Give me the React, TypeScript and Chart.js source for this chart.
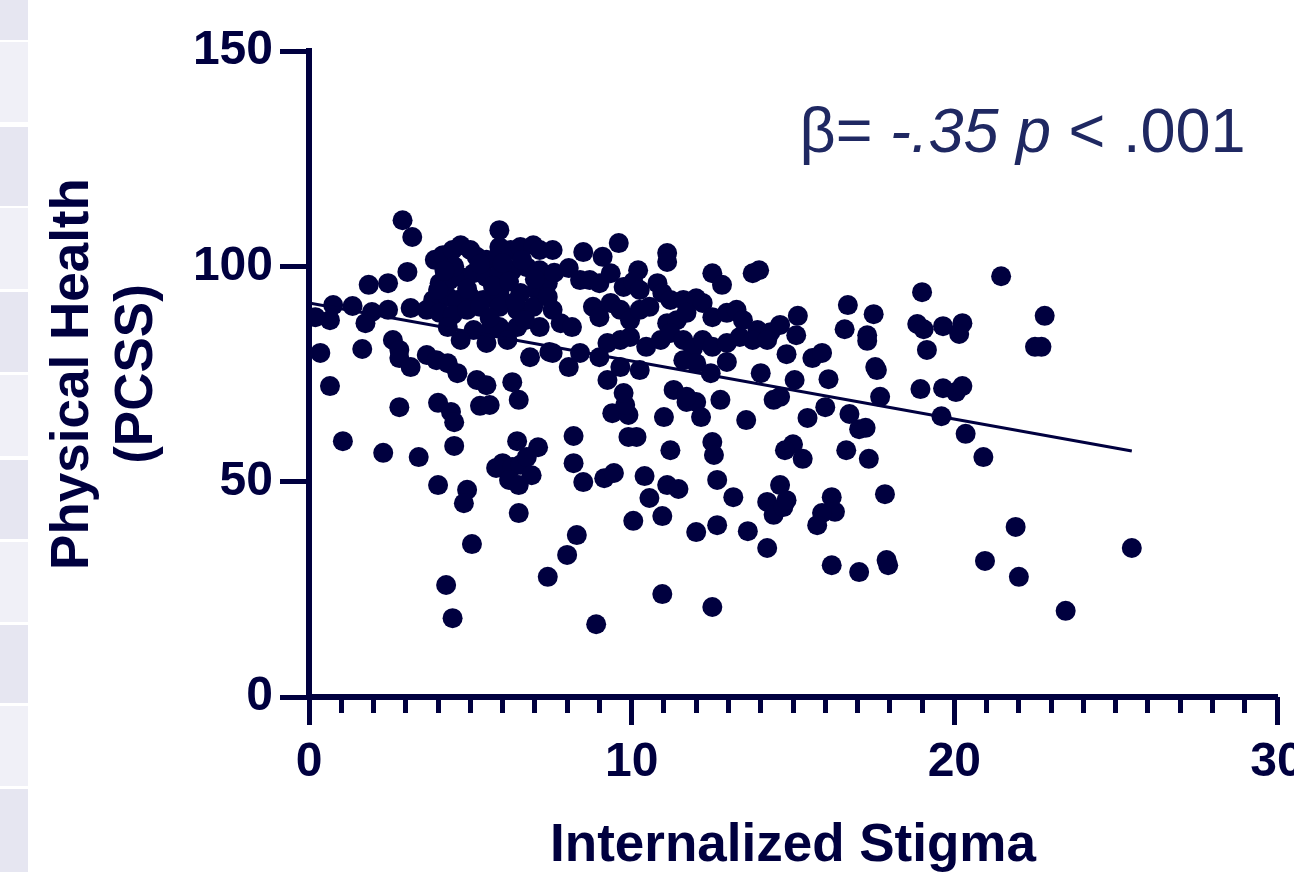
import React, { useEffect, useRef } from "react";
import { Chart, registerables } from "chart.js";

Chart.register(...registerables);

// ---- Data ----
const STIGMA: number[] = [
  2.8, 4.0, 4.4, 4.5, 5.3, 5.6, 6.5, 1.05, 2.3, 3.4, 4.5, 6.45, 7.1, 6.0, 5.8, 6.3, 6.55, 6.75, 6.9, 6.2,
  6.5, 4.0, 4.9, 4.8, 6.5, 5.05, 4.25, 4.45, 7.4, 9.4, 9.9, 9.8, 9.9, 10.15, 11.0, 11.7, 12.0, 12.75, 12.15, 13.55,
  14.4, 8.2, 8.2, 8.5, 9.15, 9.45, 10.4, 10.55, 11.1, 11.45, 10.95, 10.05, 11.2, 12.5, 12.55, 12.65, 13.15, 14.6, 14.2, 14.4,
  14.7, 14.8, 12.0, 12.65, 13.6, 14.2, 8.3, 8.0, 10.95, 12.5, 8.9, 21.45, 19.0, 22.8, 16.7, 17.5, 15.15, 14.6, 15.1, 16.6,
  17.3, 17.3, 18.85, 19.05, 19.65, 20.25, 20.15, 19.15, 22.5, 22.7, 14.8, 15.6, 15.9, 17.55, 17.6, 15.05, 16.1, 18.95, 19.65, 20.05,
  20.25, 14.6, 17.7, 16.0, 16.75, 15.45, 19.6, 17.05, 17.25, 20.35, 15.0, 14.75, 15.3, 16.65, 17.35, 20.9, 16.2, 16.3, 15.9, 15.75,
  17.85, 21.9, 25.5, 16.2, 17.05, 17.9, 17.95, 20.95, 22.0, 23.45, 2.9, 3.2, 5.9, 5.9, 1.85, 2.45, 3.05, 0.75, 1.35, 1.95,
  2.45, 1.75, 0.65, 0.2, 3.15, 0.35, 1.65, 0.65, 2.6, 2.8, 2.8, 3.15, 3.65, 3.95, 4.3, 4.6, 5.2, 5.5, 6.3, 6.85,
  7.45, 6.45, 3.9, 4.15, 4.45, 4.7, 5.0, 5.2, 5.5, 5.85, 6.25, 6.55, 6.95, 7.15, 4.05, 4.35, 4.7, 5.1, 5.5, 5.9,
  6.3, 6.75, 7.15, 3.85, 4.3, 4.6, 5.0, 5.4, 5.9, 6.55, 7.05, 7.4, 3.65, 4.05, 4.45, 4.9, 5.3, 5.9, 6.45, 6.95,
  4.3, 5.1, 5.5, 5.9, 7.15, 4.7, 5.5, 6.15, 9.6, 8.5, 7.55, 9.1, 11.1, 11.1, 8.05, 10.2, 12.5, 12.8, 13.75, 13.95,
  7.4, 7.55, 7.8, 8.15, 8.4, 8.7, 9.0, 9.35, 8.8, 9.0, 9.35, 9.75, 10.05, 10.25, 9.65, 9.95, 10.25, 10.55, 10.8, 10.95,
  11.2, 11.6, 12.0, 12.2, 11.1, 11.4, 11.7, 12.5, 12.95, 13.25, 13.45, 13.9, 14.3, 9.25, 9.65, 9.95, 10.45, 10.9, 11.2, 11.6,
  11.9, 12.2, 12.5, 12.95, 13.35, 13.75, 14.2, 7.55, 8.05, 8.4, 9.0, 9.25, 9.65, 10.25, 9.75, 11.3, 11.7, 11.6, 12.0, 12.45,
  12.95, 14.0, 4.5, 5.3, 6.0, 6.6, 4.2, 7.0, 5.7, 6.2, 4.9, 6.4, 5.6, 6.7, 4.0, 7.6,
];

const PCSS: number[] = [
  67.3, 68.3, 66.2, 63.8, 67.6, 67.8, 69.0, 59.4, 56.7, 55.7, 58.3, 59.4, 58.0, 54.3, 53.2, 53.4, 53.9, 55.7, 51.5, 50.4,
  49.2, 49.2, 48.1, 45.0, 42.7, 35.5, 26.0, 18.3, 27.9, 65.9, 65.5, 67.8, 60.4, 60.4, 65.0, 68.5, 68.5, 69.0, 65.0, 64.3,
  69.0, 60.6, 54.3, 49.9, 50.8, 52.0, 51.3, 46.2, 49.2, 48.3, 42.0, 40.9, 57.3, 59.2, 56.2, 50.4, 46.4, 49.2, 45.3, 42.3,
  44.1, 45.7, 38.3, 39.9, 38.5, 34.6, 37.6, 33.0, 23.9, 20.9, 16.9, 97.7, 94.0, 88.5, 91.0, 88.9, 88.5, 86.4, 84.0, 85.4,
  84.0, 82.7, 86.6, 85.4, 86.1, 86.8, 84.3, 80.6, 81.3, 81.3, 79.6, 78.7, 79.9, 76.6, 75.9, 73.6, 73.8, 71.5, 71.7, 70.8,
  72.2, 69.7, 69.7, 67.3, 65.7, 64.8, 65.2, 62.2, 62.5, 61.1, 58.7, 57.3, 55.3, 57.3, 55.3, 55.7, 46.4, 43.0, 42.7, 39.9,
  47.1, 39.5, 34.6, 30.6, 29.0, 31.8, 30.6, 31.6, 27.9, 20.0, 110.7, 106.8, 108.4, 104.5, 95.7, 96.1, 98.7, 91.0, 90.8, 89.4,
  89.9, 86.8, 87.5, 88.2, 90.3, 79.9, 80.8, 72.2, 82.9, 80.6, 78.7, 76.6, 79.4, 78.2, 77.5, 75.2, 73.6, 72.4, 73.1, 78.9,
  80.1, 85.9, 101.5, 102.6, 103.8, 104.9, 103.8, 102.2, 101.5, 102.2, 103.8, 104.5, 104.9, 103.8, 96.1, 96.8, 97.5, 98.4, 97.5, 98.4,
  99.1, 99.8, 99.1, 92.2, 92.9, 92.2, 92.9, 92.2, 93.8, 93.8, 94.5, 96.1, 89.9, 89.2, 88.7, 89.9, 90.6, 90.6, 89.9, 90.6,
  85.9, 85.2, 84.5, 85.9, 85.9, 82.9, 82.2, 82.9, 105.4, 103.3, 103.8, 102.2, 103.1, 101.0, 99.6, 99.1, 98.4, 95.7, 98.4, 99.1,
  92.9, 89.9, 86.8, 85.9, 96.8, 96.8, 96.1, 98.4, 90.6, 88.2, 91.5, 95.2, 96.4, 94.5, 89.9, 87.5, 89.9, 90.6, 96.1, 93.8,
  92.2, 92.2, 92.6, 91.5, 86.8, 87.5, 89.2, 88.2, 89.2, 89.9, 87.5, 85.2, 84.7, 82.2, 82.9, 83.6, 81.3, 82.9, 84.5, 82.9,
  81.0, 82.9, 81.3, 82.2, 83.6, 82.9, 82.9, 79.9, 76.6, 79.9, 78.9, 73.6, 76.6, 75.9, 70.6, 71.3, 69.7, 78.2, 77.5, 75.2,
  77.8, 75.2, 100.0, 100.5, 100.8, 101.5, 99.0, 97.0, 95.5, 96.5, 94.8, 91.8, 88.0, 87.5, 94.5, 98.5,
];

// Regression line end points (Internalized Stigma, PCSS)
const FIT_X: number[] = [0, 25.5];
const FIT_Y: number[] = [91.5, 57.1];

// Axis ticks
const X_MAJOR_STEP = 10;
const X_MINOR_STEP = 1;
const X_RANGE: number[] = [0, 30];
const Y_TICK_STEP = 50;
const Y_RANGE: number[] = [0, 150];

const X_TITLE = "Internalized Stigma";
const Y_TITLE: string[] = ["Physical Health", "(PCSS)"];

// Annotation: segments [text, italic]
const ANNOTATION: [string, boolean][] = [
  ["\u03B2= ", false],
  ["-.35", true],
  [" ", false],
  ["p", true],
  [" < .001", false],
];
const ANNOTATION_AT: number[] = [15.2, 126.5];

const NAVY = "#00003f";
const TEXT_NAVY = "#1f2862";
const FONT = '"Liberation Sans", Arial, Helvetica, sans-serif';

const STRIP: [number, number, string][] = [
  [0, 40, "#e6e6f1"],
  [42, 122, "#f0f0f7"],
  [127, 206, "#e6e6f1"],
  [208, 289, "#f0f0f7"],
  [292, 372, "#e6e6f1"],
  [375, 456, "#f0f0f7"],
  [460, 539, "#e6e6f1"],
  [542, 622, "#f0f0f7"],
  [625, 703, "#e6e6f1"],
  [706, 786, "#f0f0f7"],
  [789, 872, "#e6e6f1"],
];

const annotationPlugin = {
  id: "betaAnnotation",
  afterDatasetsDraw(chart: any) {
    const { ctx, scales } = chart;
    let x = scales.x.getPixelForValue(ANNOTATION_AT[0]);
    const y = scales.y.getPixelForValue(ANNOTATION_AT[1]);
    ctx.save();
    ctx.fillStyle = TEXT_NAVY;
    ctx.textBaseline = "alphabetic";
    ctx.textAlign = "left";
    for (const [t, it] of ANNOTATION) {
      ctx.font = `${it ? "italic " : ""}63px ${FONT}`;
      ctx.fillText(t, x, y);
      x += ctx.measureText(t).width;
    }
    ctx.restore();
  },
};

export default function App() {
  const ref = useRef<HTMLCanvasElement>(null);

  useEffect(() => {
    const canvas = ref.current;
    if (!canvas) return;
    const points = STIGMA.map((x, i) => ({ x, y: PCSS[i] }));
    const fit = FIT_X.map((x, i) => ({ x, y: FIT_Y[i] }));
    const tickFont = { family: FONT, size: 48, weight: "bold" as const };

    const chart = new Chart(canvas, {
      type: "scatter",
      data: {
        datasets: [
          {
            type: "line",
            data: fit,
            xAxisID: "x",
            yAxisID: "y",
            borderColor: NAVY,
            borderWidth: 3,
            pointRadius: 0,
            fill: false,
            tension: 0,
          } as any,
          {
            data: points,
            xAxisID: "x",
            yAxisID: "y",
            backgroundColor: NAVY,
            borderColor: NAVY,
            borderWidth: 0,
            pointRadius: 10,
            pointHoverRadius: 10,
          },
        ],
      },
      options: {
        animation: false,
        responsive: false,
        events: [],
        layout: { padding: { top: 51, right: 17, left: 0, bottom: 0 } },
        plugins: {
          legend: { display: false },
          tooltip: { enabled: false },
        },
        scales: {
          x: {
            type: "linear",
            position: "bottom",
            weight: 1,
            min: X_RANGE[0],
            max: X_RANGE[1],
            ticks: {
              stepSize: X_MAJOR_STEP,
              color: NAVY,
              font: tickFont,
              padding: 9,
              maxRotation: 0,
              autoSkip: false,
            },
            grid: {
              display: true,
              drawOnChartArea: false,
              drawTicks: true,
              tickLength: 28,
              tickWidth: 5,
              tickColor: NAVY,
              color: NAVY,
            },
            border: { display: true, color: NAVY, width: 6 },
            title: {
              display: true,
              text: X_TITLE,
              color: NAVY,
              font: { family: FONT, size: 53, weight: "bold", lineHeight: 0.95 },
              padding: { top: 0, bottom: 0 },
            },
            afterFit: (s: any) => {
              s.height = 175;
              s.paddingLeft = 0;
              s.paddingRight = 0;
            },
          },
          xMinor: {
            type: "linear",
            position: "bottom",
            weight: 0,
            min: X_RANGE[0],
            max: X_RANGE[1],
            ticks: { display: false, stepSize: X_MINOR_STEP, autoSkip: false },
            grid: {
              display: true,
              drawOnChartArea: false,
              drawTicks: true,
              tickLength: 16,
              tickWidth: 5,
              tickColor: NAVY,
              color: NAVY,
            },
            border: { display: false },
            afterFit: (s: any) => {
              s.height = 0;
              s.paddingLeft = 0;
              s.paddingRight = 0;
            },
          },
          y: {
            type: "linear",
            position: "left",
            min: Y_RANGE[0],
            max: Y_RANGE[1],
            ticks: {
              stepSize: Y_TICK_STEP,
              color: NAVY,
              font: tickFont,
              padding: 7,
            },
            grid: {
              display: true,
              drawOnChartArea: false,
              drawTicks: true,
              tickLength: 29,
              tickWidth: 5,
              tickColor: NAVY,
              color: NAVY,
            },
            border: { display: true, color: NAVY, width: 6 },
            title: {
              display: true,
              text: Y_TITLE,
              color: NAVY,
              font: { family: FONT, size: 53, weight: "bold", lineHeight: 1.2 },
              padding: { top: 42, bottom: 0 },
            },
            afterFit: (s: any) => {
              s.width = 309;
            },
          },
        },
      },
      plugins: [annotationPlugin],
    });

    return () => chart.destroy();
  }, []);

  return (
    <div
      style={{
        position: "fixed",
        left: 0,
        top: 0,
        width: 1294,
        height: 872,
        overflow: "hidden",
        background: "#ffffff",
      }}
    >
      {STRIP.map(([y0, y1, c], i) => (
        <div
          key={i}
          style={{ position: "absolute", left: 0, top: y0, width: 28, height: y1 - y0, background: c }}
        />
      ))}
      <canvas
        ref={ref}
        width={1294}
        height={872}
        style={{ position: "absolute", left: 0, top: 0 }}
      />
    </div>
  );
}
